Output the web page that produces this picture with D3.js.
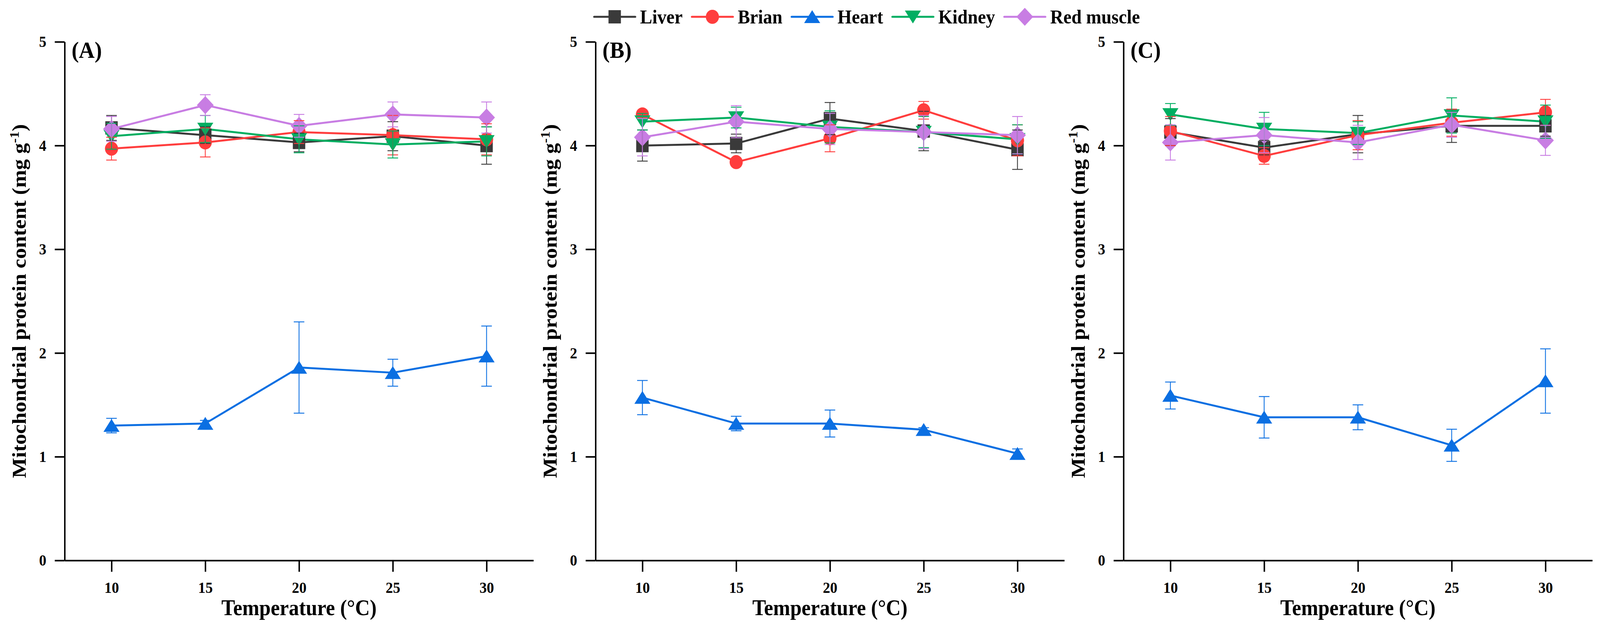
<!DOCTYPE html>
<html>
<head>
<meta charset="utf-8">
<script src="https://cdn.jsdelivr.net/npm/d3@7"></script>
<style>
  html, body { margin: 0; padding: 0; background: #fff; overflow: hidden; }
  #chart svg { display: block; width: 100vw; height: 100vh; }
  svg text { font-family: "Liberation Serif", "Times New Roman", serif; font-weight: bold; fill: #000; }
</style>
</head>
<body>
<div id="chart"></div>
<script>
// Temperatures (x) and organ series
var temps = [10, 15, 20, 25, 30];
var seriesNames = ["Liver", "Brian", "Heart", "Kidney", "Red muscle"];
var panelLabels = ["(A)", "(B)", "(C)"];
var yTicks = [0, 1, 2, 3, 4, 5];

// means per panel [A, B, C]
var liverMean = [[4.17, 4.10, 4.03, 4.09, 4.00], [4.00, 4.02, 4.26, 4.14, 3.96], [4.13, 3.98, 4.11, 4.19, 4.19]];
var brianMean = [[3.97, 4.03, 4.13, 4.10, 4.06], [4.30, 3.84, 4.07, 4.34, 4.05], [4.14, 3.90, 4.10, 4.22, 4.32]];
var heartMean = [[1.30, 1.32, 1.86, 1.81, 1.97], [1.57, 1.32, 1.32, 1.26, 1.03], [1.59, 1.38, 1.38, 1.11, 1.73]];
var kidneyMean = [[4.09, 4.16, 4.06, 4.01, 4.04], [4.23, 4.27, 4.18, 4.13, 4.06], [4.30, 4.16, 4.12, 4.29, 4.23]];
var muscleMean = [[4.16, 4.39, 4.19, 4.30, 4.27], [4.08, 4.23, 4.16, 4.13, 4.10], [4.03, 4.10, 4.03, 4.20, 4.05]];

// error bars (+/-)
var liverErr = [[0.12, 0.08, 0.09, 0.14, 0.18], [0.15, 0.09, 0.155, 0.19, 0.19], [0.13, 0.07, 0.18, 0.16, 0.10]];
var brianErr = [[0.11, 0.14, 0.11, 0.19, 0.15], [0.03, 0.03, 0.13, 0.085, 0.15], [0.14, 0.08, 0.14, 0.13, 0.125]];
var heartErr = [[0.07, 0.03, 0.44, 0.13, 0.29], [0.165, 0.07, 0.13, 0.02, 0.045], [0.13, 0.20, 0.12, 0.155, 0.31]];
var kidneyErr = [[0.125, 0.13, 0.13, 0.13, 0.14], [0.08, 0.10, 0.155, 0.15, 0.14], [0.105, 0.16, 0.11, 0.17, 0.16]];
var muscleErr = [[0.12, 0.10, 0.11, 0.12, 0.15], [0.18, 0.155, 0.15, 0.16, 0.18], [0.17, 0.17, 0.165, 0.12, 0.145]];

var means = [liverMean, brianMean, heartMean, kidneyMean, muscleMean];
var errs = [liverErr, brianErr, heartErr, kidneyErr, muscleErr];
var colors = ["#3a3a3a", "#ff3d3d", "#0b6fe2", "#00ae61", "#c87de3"];
var shapes = ["square", "circle", "triangleUp", "triangleDown", "diamond"];

var W = 4382, H = 1612;
var panelLeft = [177, 1631, 3077];
var plotW = 1284, plotTop = 107, plotBottom = 1434;

// viewBox stretched over the whole window
var svg = d3.select("#chart").append("svg")
    .attr("viewBox", "0 0 " + W + " " + H)
    .attr("preserveAspectRatio", "none");

function markerPath(shape) {
    switch (shape) {
        case "square": return "M-17,-17H17V17H-17Z";
        case "circle": return "M-18,0A18,18 0 1,0 18,0A18,18 0 1,0 -18,0Z";
        case "triangleUp": return "M0,-17L22,16H-22Z";
        case "triangleDown": return "M0,17L22,-16H-22Z";
        case "diamond": return "M0,-23L23,0L0,23L-23,0Z";
    }
}

var x = d3.scaleLinear().domain([7.5, 32.5]).range([0, plotW]);
var y = d3.scaleLinear().domain([0, 5]).range([plotBottom - plotTop, 0]);

panelLabels.forEach(function (label, p) {
    var g = svg.append("g")
        .attr("transform", "translate(" + panelLeft[p] + "," + plotTop + ")");

    // axes
    var xAxis = g.append("g")
        .attr("transform", "translate(0," + y(0) + ")")
        .call(d3.axisBottom(x).tickValues(temps).tickFormat(d3.format("d"))
            .tickSize(29).tickSizeOuter(0).tickPadding(26));
    var yAxis = g.append("g")
        .call(d3.axisLeft(y).tickValues(yTicks).tickFormat(d3.format("d"))
            .tickSize(27).tickSizeOuter(0).tickPadding(23));
    [xAxis, yAxis].forEach(function (a) {
        a.selectAll("path, line").attr("stroke", "#000").attr("stroke-width", 4);
        a.selectAll("text").attr("font-size", "40px")
            .style("font-family", "'Liberation Serif', 'Times New Roman', serif").style("font-weight", "bold");
    });

    // series lines
    seriesNames.forEach(function (name, s) {
        var pts = temps.map(function (t, i) { return {t: t, v: means[s][p][i]}; });
        g.append("path")
            .datum(pts)
            .attr("fill", "none")
            .attr("stroke", colors[s])
            .attr("stroke-width", 5)
            .attr("stroke-linejoin", "round")
            .attr("d", d3.line().x(function (d) { return x(d.t); }).y(function (d) { return y(d.v); }));
    });

    // markers
    seriesNames.forEach(function (name, s) {
        g.selectAll(".m" + s)
            .data(temps.map(function (t, i) { return {t: t, v: means[s][p][i]}; }))
            .enter().append("path")
            .attr("class", "m" + s)
            .attr("fill", colors[s])
            .attr("d", markerPath(shapes[s]))
            .attr("transform", function (d) { return "translate(" + x(d.t) + "," + y(d.v) + ")"; });
    });

    // error bars
    seriesNames.forEach(function (name, s) {
        var eb = g.selectAll(".e" + s)
            .data(temps.map(function (t, i) { return {t: t, v: means[s][p][i], e: errs[s][p][i]}; }))
            .enter().append("g")
            .attr("class", "e" + s)
            .attr("stroke", colors[s])
            .attr("stroke-width", 2.3);
        eb.append("line")
            .attr("x1", function (d) { return x(d.t); }).attr("x2", function (d) { return x(d.t); })
            .attr("y1", function (d) { return y(d.v - d.e); }).attr("y2", function (d) { return y(d.v + d.e); });
        eb.append("line")
            .attr("x1", function (d) { return x(d.t) - 14.5; }).attr("x2", function (d) { return x(d.t) + 14.5; })
            .attr("y1", function (d) { return y(d.v + d.e); }).attr("y2", function (d) { return y(d.v + d.e); });
        eb.append("line")
            .attr("x1", function (d) { return x(d.t) - 14.5; }).attr("x2", function (d) { return x(d.t) + 14.5; })
            .attr("y1", function (d) { return y(d.v - d.e); }).attr("y2", function (d) { return y(d.v - d.e); });
    });

    // panel label
    g.append("text")
        .attr("x", 19)
        .attr("y", 41)
        .attr("font-size", "60px")
        .text(label);

    // x title
    g.append("text")
        .attr("x", plotW / 2)
        .attr("y", 1574 - plotTop)
        .attr("text-anchor", "middle")
        .attr("font-size", "56px")
        .text("Temperature (°C)");

    // y title
    var yt = g.append("text")
        .attr("transform", "translate(-106," + (y(2.5)) + ") rotate(-90)")
        .attr("text-anchor", "middle")
        .attr("font-size", "55px")
        .text("Mitochondrial protein content (mg g");
    yt.append("tspan").attr("font-size", "36px").attr("dy", "-20").text("-1");
    yt.append("tspan").attr("dy", "20").text(")");
});

// legend
var legend = svg.append("g").attr("transform", "translate(1627,43)");
var lx = 0;
seriesNames.forEach(function (name, s) {
    var item = legend.append("g").attr("transform", "translate(" + lx + ",0)");
    item.append("line")
        .attr("x1", 0).attr("x2", 113)
        .attr("stroke", colors[s]).attr("stroke-width", 5).attr("stroke-linecap", "round");
    item.append("path")
        .attr("fill", colors[s])
        .attr("d", markerPath(shapes[s]))
        .attr("transform", "translate(56.5,0)");
    var txt = item.append("text")
        .attr("x", 126)
        .attr("y", 17)
        .attr("font-size", "50px")
        .text(name);
    lx += 126 + txt.node().getComputedTextLength() + 25;
});
</script>
</body>
</html>
